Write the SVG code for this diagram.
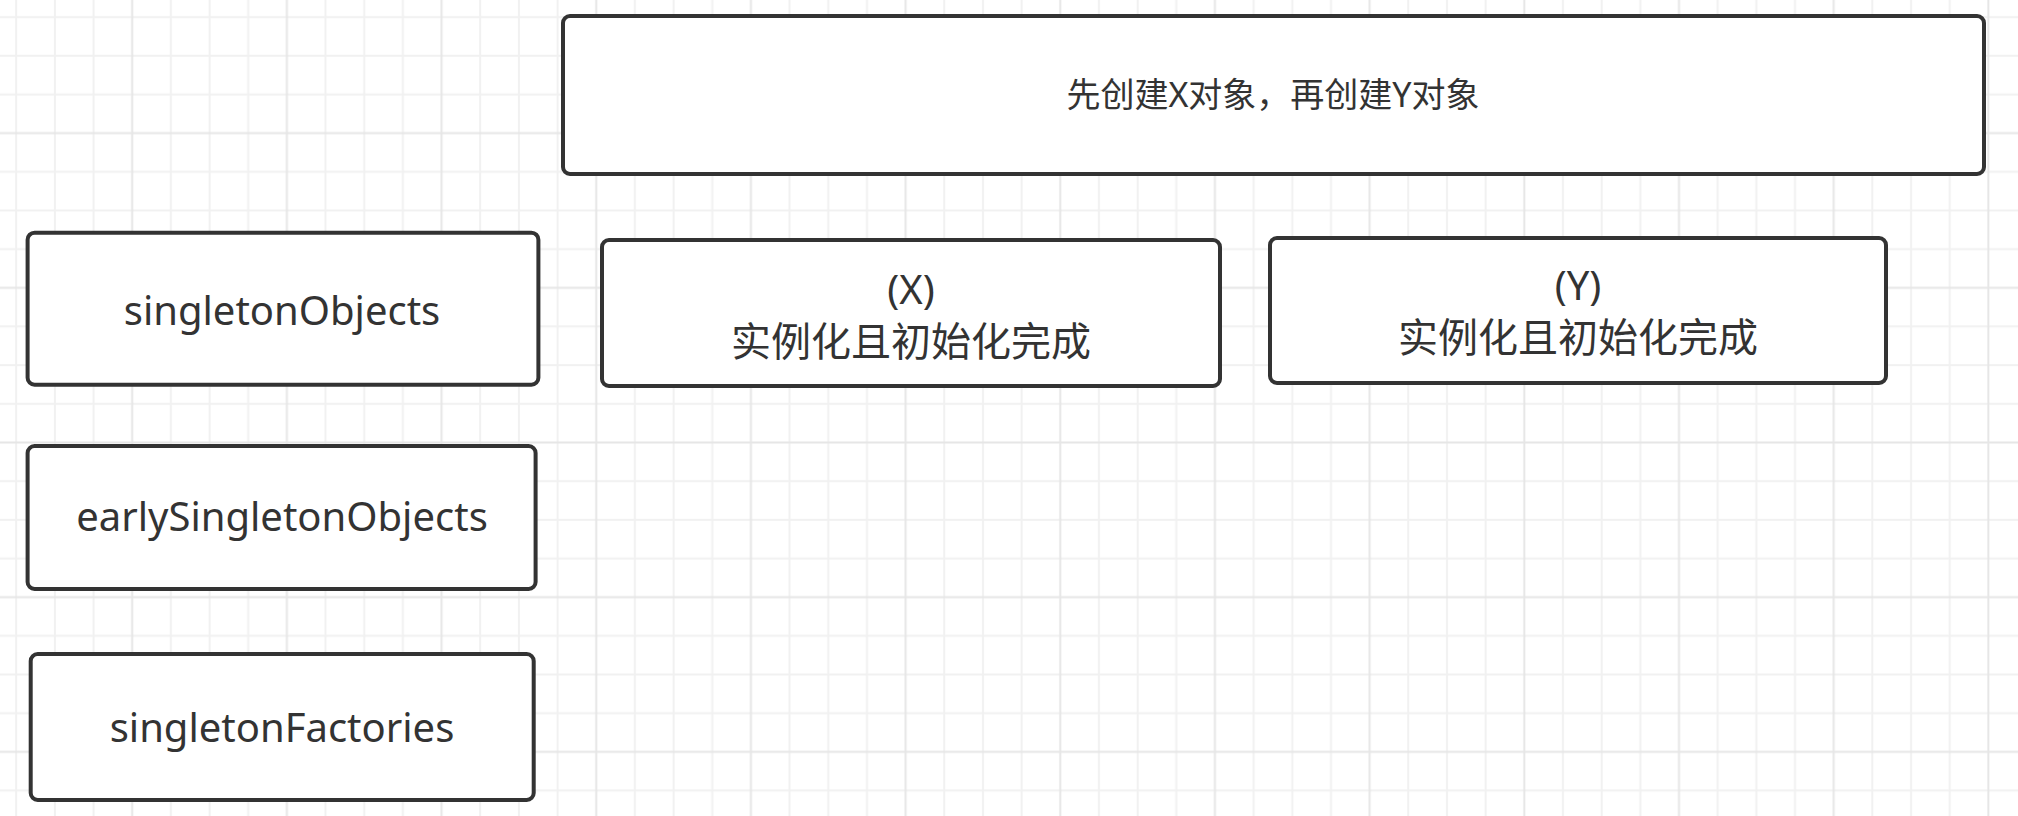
<svg xmlns="http://www.w3.org/2000/svg" width="2018" height="816" viewBox="0 0 2018 816">
  <style>
    .box { fill: #ffffff; stroke: #333333; stroke-width: 4; }
    .lbl { font-family: "Noto Sans", "Noto Sans CJK SC", sans-serif; font-size: 40px; fill: #333333; text-anchor: middle; }
    .top { font-family: "Noto Sans", "Noto Sans CJK SC", sans-serif; font-size: 34px; fill: #333333; text-anchor: middle; }
    .minor { stroke: #f1f1f1; stroke-width: 2; }
    .major { stroke: #e6e6e6; stroke-width: 2; }
  </style>
  <defs>
    <pattern id="grid" patternUnits="userSpaceOnUse" x="112.865" y="113.665" width="154.68" height="154.68">
      <line class="minor" x1="58.01" y1="0" x2="58.01" y2="154.68"/>
      <line class="minor" x1="96.68" y1="0" x2="96.68" y2="154.68"/>
      <line class="minor" x1="135.35" y1="0" x2="135.35" y2="154.68"/>
      <line class="minor" x1="0" y1="58.01" x2="154.68" y2="58.01"/>
      <line class="minor" x1="0" y1="96.68" x2="154.68" y2="96.68"/>
      <line class="minor" x1="0" y1="135.35" x2="154.68" y2="135.35"/>
      <line class="major" x1="19.34" y1="0" x2="19.34" y2="154.68"/>
      <line class="major" x1="0" y1="19.34" x2="154.68" y2="19.34"/>
    </pattern>
  </defs>
  <rect x="0" y="0" width="2018" height="816" fill="#ffffff"/>
  <rect x="0" y="0" width="2018" height="816" fill="url(#grid)"/>

  <g id="connectors"></g>

  <g id="node-top">
    <rect class="box" x="563" y="16" width="1421" height="158" rx="7"/>
    <text class="top" x="1273" y="107">先创建X对象，再创建Y对象</text>
  </g>

  <g id="node-singletonObjects">
    <rect class="box" x="27.6" y="232.7" width="510.8" height="152" rx="7"/>
    <text class="lbl" x="282" y="325">singletonObjects</text>
  </g>

  <g id="node-earlySingletonObjects">
    <rect class="box" x="27.6" y="446" width="508" height="143" rx="7"/>
    <text class="lbl" x="282" y="531">earlySingletonObjects</text>
  </g>

  <g id="node-singletonFactories">
    <rect class="box" x="30.7" y="654" width="503" height="146" rx="7"/>
    <text class="lbl" x="282" y="742">singletonFactories</text>
  </g>

  <g id="node-X">
    <rect class="box" x="602" y="240" width="618" height="146" rx="7"/>
    <text class="lbl" x="911" y="304">(X)</text>
    <text class="lbl" x="911" y="356">实例化且初始化完成</text>
  </g>

  <g id="node-Y">
    <rect class="box" x="1270" y="238" width="616" height="145" rx="7"/>
    <text class="lbl" x="1578" y="300">(Y)</text>
    <text class="lbl" x="1578" y="352">实例化且初始化完成</text>
  </g>
</svg>
